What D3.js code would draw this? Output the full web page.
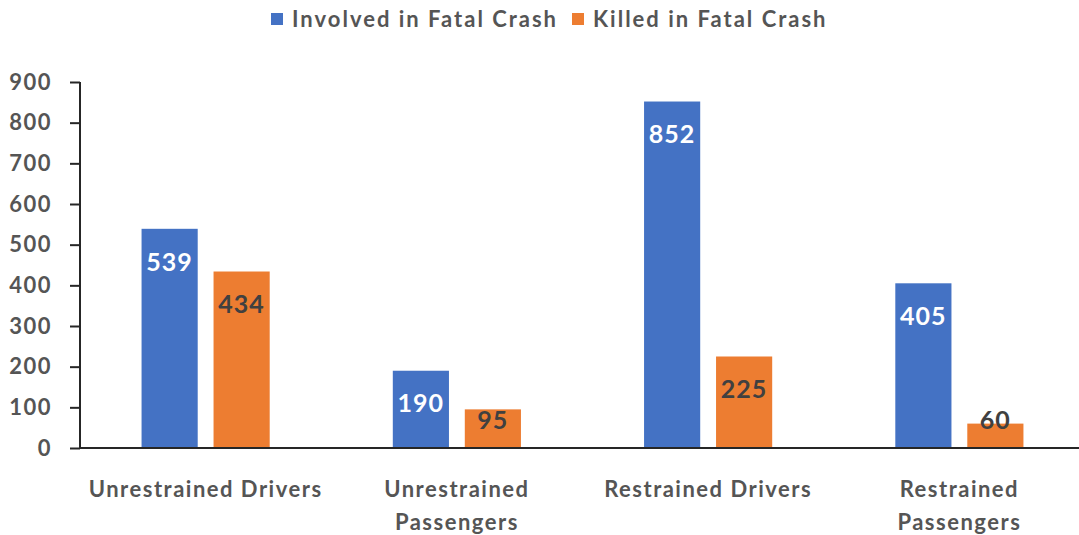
<!DOCTYPE html>
<html>
<meta charset="utf-8">
<title>Fatal Crash Bar</title>
<style>
body { margin: 0; background: #fff; }
text { font-family: "Lato", "Liberation Sans", sans-serif; }
.axis text { fill: #555555; font-size: 22px; font-weight: bold; letter-spacing: 1.5px; }
.axis path, .axis line { stroke: #262626; stroke-width: 2px; }
.legend text { fill: #555555; font-size: 22px; font-weight: bold; letter-spacing: 2px; }
.label { font-size: 25px; font-weight: bold; text-anchor: middle; letter-spacing: 1px; }
</style>
<svg></svg>
<script src="https://d3js.org/d3.v7.min.js"></script>
<script>

var categories = ["Unrestrained Drivers", "Unrestrained Passengers", "Restrained Drivers", "Restrained Passengers"];
var seriesNames = ["Involved in Fatal Crash", "Killed in Fatal Crash"];
var involved = [539, 190, 852, 405];
var killed = [434, 95, 225, 60];
var yTicks = [0, 100, 200, 300, 400, 500, 600, 700, 800, 900];
var colors = ["#4472C4", "#ED7D31"];
var labelColors = ["#ffffff", "#404040"];

var svg = d3.select("svg").attr("width", 1079).attr("height", 535);

var margin = {top: 82, right: 0, bottom: 87, left: 80},
    width = 1085 - margin.left,
    height = 535 - margin.top - margin.bottom;

var data = categories.map(function(c, i) {
  return {name: c, values: [involved[i], killed[i]]};
});

var x0 = d3.scaleBand().domain(categories).range([0, width]).paddingInner(0.49).paddingOuter(0.245);
var x1 = d3.scaleBand().domain([0, 1]).range([0, x0.bandwidth()]).paddingInner(0.22);
var y = d3.scaleLinear().domain([0, 900]).range([height, 0]);

var g = svg.append("g").attr("transform", "translate(" + margin.left + "," + margin.top + ")");

// bars
var groups = g.selectAll(".grp")
  .data(data)
  .enter().append("g")
    .attr("class", "grp")
    .attr("transform", function(d) { return "translate(" + x0(d.name) + ",0)"; });

groups.selectAll("rect")
  .data(function(d) { return d.values; })
  .enter().append("rect")
    .attr("x", function(d, i) { return x1(i); })
    .attr("y", function(d) { return y(d); })
    .attr("width", x1.bandwidth())
    .attr("height", function(d) { return height - y(d); })
    .attr("fill", function(d, i) { return colors[i]; });

groups.selectAll("text.label")
  .data(function(d) { return d.values; })
  .enter().append("text")
    .attr("class", "label")
    .attr("x", function(d, i) { return x1(i) + x1.bandwidth() / 2; })
    .attr("y", function(d) { return Math.min(y(d) + 33, height - 28); })
    .attr("dy", "0.35em")
    .attr("fill", function(d, i) { return labelColors[i]; })
    .text(function(d) { return d; });

// y axis
var yAxis = g.append("g")
  .attr("class", "axis")
  .call(d3.axisLeft(y).tickValues(yTicks).tickSize(10).tickPadding(18));
yAxis.select(".domain").attr("d", "M0," + height + "V0");

// x axis
var xAxis = g.append("g")
  .attr("class", "axis")
  .attr("transform", "translate(0," + height + ")")
  .call(d3.axisBottom(x0).tickSize(0).tickPadding(0));
xAxis.select(".domain").attr("d", "M0,0H" + width);
xAxis.selectAll(".tick text").each(function(d) {
  var t = d3.select(this);
  var words = d.split(" ");
  t.text(null);
  var lines = (d.indexOf("Passengers") >= 0) ? [words[0], words[1]] : [d];
  lines.forEach(function(l, k) {
    t.append("tspan").attr("x", 0).attr("y", 41 + k * 33).attr("dy", "0.35em").text(l);
  });
});

// legend
var legend = svg.append("g").attr("class", "legend");
var legendX = [271, 572];
seriesNames.forEach(function(s, i) {
  legend.append("rect").attr("x", legendX[i]).attr("y", 13).attr("width", 12).attr("height", 12).attr("fill", colors[i]);
  legend.append("text").attr("x", legendX[i] + 21).attr("y", 19).attr("dy", "0.35em").text(s);
});

</script>
</html>
